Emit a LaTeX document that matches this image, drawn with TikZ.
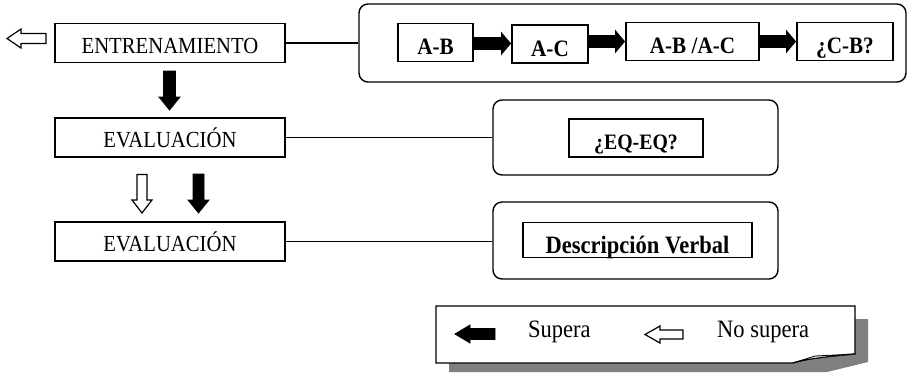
\documentclass[tikz,border=0pt]{standalone}
\usepackage{fontspec}
\setmainfont{Liberation Serif}[FakeStretch=0.9]
\usetikzlibrary{arrows.meta}
\begin{document}
\begin{tikzpicture}[x=1pt,y=-1pt,
  plain/.style={draw, line width=1.6pt, minimum width=230pt, minimum height=39pt, inner sep=0pt,
    text height=20pt, text depth=0pt, font=\fontsize{23}{23}\selectfont},
  inner/.style={draw, line width=1.8pt, minimum height=38pt, inner sep=0pt,
    text height=24pt, text depth=0pt, font=\bfseries\fontsize{23.5}{23.5}\selectfont},
  rbox/.style={draw, line width=1.4pt, rounded corners=9pt, inner sep=0pt},
  link/.style={line width=1.2pt},
  seqarrow/.style={line width=13pt, -{Triangle[length=10pt,width=23pt]}},
  solidarrow/.style={fill=black, draw=black, line width=0.8pt, line join=miter},
  hollowarrow/.style={fill=white, draw=black, line width=1.2pt, line join=miter},
  legtext/.style={anchor=south west, inner sep=0pt, font=\fontsize{25}{25}\selectfont}
]
\useasboundingbox (0,0) rectangle (908,373);

% left column
\node[plain] (ent) at (170,43) {ENTRENAMIENTO};
\node[plain] (ev1) at (170,137.5) {EVALUACIÓN};
\node[plain] (ev2) at (170,241.5) {EVALUACIÓN};

% right rounded boxes
\node[rbox, minimum width=547pt, minimum height=78pt] (seq) at (632.5,43) {};
\node[rbox, minimum width=285pt, minimum height=75pt] (rb2) at (635.5,137.5) {};
\node[rbox, minimum width=285pt, minimum height=77pt] (rb3) at (635.5,240.5) {};

% inner boxes
\node[inner, minimum width=75pt] (ab) at (435.5,42.5) {A-B};
\node[inner, minimum width=76pt] (ac) at (550,44) {A-C};
\node[inner, minimum width=133pt] (abac) at (692.5,41.5) {A-B /A-C};
\node[inner, minimum width=96pt] (cb) at (845,41.5) {¿C-B?};
\node[inner, minimum width=134pt, text height=22pt, font=\bfseries\fontsize{22}{22}\selectfont] (eq) at (636,138) {¿EQ-EQ?};
\node[inner, minimum width=229pt, minimum height=35pt, text height=26pt, font=\bfseries\fontsize{25}{25}\selectfont] (desc) at (637.5,240) {Descripción Verbal};

% connectors
\draw[link] (ent.east) -- (ent.east -| seq.west);
\draw[link] (ev1.east) -- (ev1.east -| rb2.west);
\draw[link] (ev2.east) -- (ev2.east -| rb3.west);

\draw[seqarrow] ([yshift=-1pt]ab.east) -- ([yshift=-1pt]ab.east -| ac.west);
\draw[seqarrow] (ac.east |- abac.west) -- (abac.west);
\draw[seqarrow] (abac.east) -- (abac.east -| cb.west);

% block arrows (left column)
\draw[hollowarrow] (7,38.5) -- (21,29) -- (21,33.5) -- (46,33.5) -- (46,43.5) -- (21,43.5) -- (21,48) -- cycle;
\draw[solidarrow] (163.5,71) -- (175.5,71) -- (175.5,97) -- (180,97) -- (169.5,110) -- (159,97) -- (163.5,97) -- cycle;
\draw[hollowarrow] (137,174.5) -- (147,174.5) -- (147,200) -- (152,200) -- (142,213) -- (132,200) -- (137,200) -- cycle;
\draw[solidarrow] (193,174) -- (204,174) -- (204,200) -- (209,200) -- (198.5,213) -- (188,200) -- (193,200) -- cycle;

% legend
\fill[gray] (449,319) -- (868,319) -- (868,362) -- (827,372) -- (449,372) -- cycle;
\draw[line width=1.3pt, fill=white, line join=miter] (436,306) -- (855,306) -- (855,354) .. controls (830,356) and (805,359) .. (793,363) -- (436,363) -- cycle;
\draw[line width=0.8pt, fill=gray!25] (793,363) -- (815,356) -- (855,354) .. controls (830,356) and (805,359) .. (793,363) -- cycle;
\draw[solidarrow] (455,334) -- (470,325) -- (470,328.5) -- (495,328.5) -- (495,339.5) -- (470,339.5) -- (470,343) -- cycle;
\node[legtext] (sup) at (528,343) {Supera};
\draw[hollowarrow] (645,334.5) -- (660,326) -- (660,330) -- (683,330) -- (683,339) -- (660,339) -- (660,343) -- cycle;
\node[legtext] (nosup) at (717,343) {No supera};
\end{tikzpicture}
\end{document}
